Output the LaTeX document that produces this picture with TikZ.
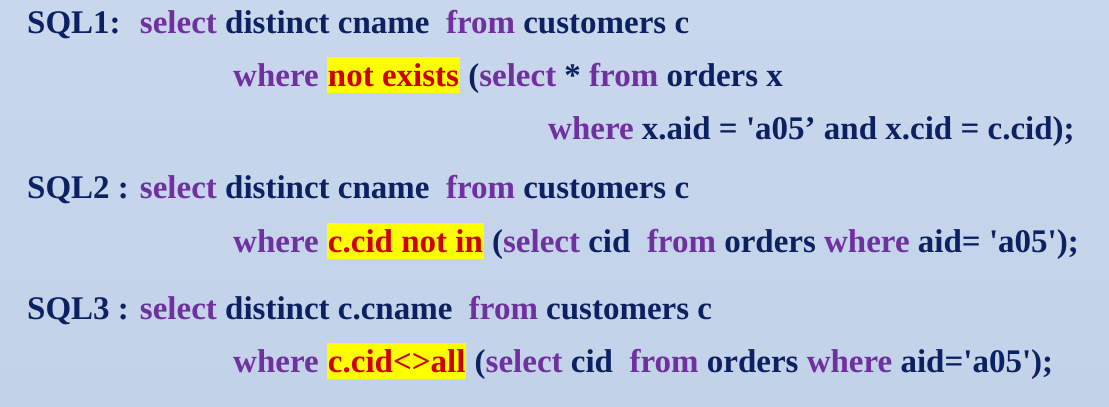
\documentclass[tikz,border=0pt]{standalone}
\usepackage{fontspec}
\setmainfont{Liberation Serif}[Ligatures=TeXOff]
\definecolor{nv}{HTML}{0B2161}
\definecolor{pp}{HTML}{7030A0}
\definecolor{rd}{HTML}{CC0000}
\definecolor{hly}{HTML}{FFFF00}
\definecolor{bgtop}{HTML}{C8D7EC}
\definecolor{bgmid}{HTML}{AFC3E0}
\definecolor{bgbot}{HTML}{C2D2E9}
\newcommand{\kw}[1]{\textcolor{pp}{#1}}
\newcommand{\hlt}[1]{{\setlength\fboxsep{0pt}\colorbox{hly}{\rule[-7pt]{0pt}{36pt}\kern1pt\textcolor{rd}{#1}\kern1pt}}}
\tikzset{sqlline/.style={anchor=base west, inner sep=0pt, font=\bfseries\fontsize{33}{38}\selectfont, text=nv}}
\begin{document}
\begin{tikzpicture}[x=1pt,y=-1pt]
\useasboundingbox (0,0) rectangle (1109,407);
\shade[top color=bgtop, middle color=bgmid, bottom color=bgbot] (0,0) rectangle (1109,407);
\node[sqlline] (l1) at (27,33) {SQL1:~ \kw{select} distinct cname~ \kw{from} customers c};
\node[sqlline] (l2) at (233,86) {\kw{where} \hlt{not exists} (\kw{select} * \kw{from} orders x};
\node[sqlline] (l3) at (548,139) {\kw{where} x.aid = 'a05’ and x.cid = c.cid);};
\node[sqlline] (l4) at (27,198) {SQL2 : \kw{select} distinct cname~ \kw{from} customers c};
\node[sqlline] (l5) at (233,252) {\kw{where} \hlt{c.cid not in} (\kw{select} cid~ \kw{from} orders \kw{where} aid= 'a05');};
\node[sqlline] (l6) at (27,319) {SQL3 : \kw{select} distinct c.cname~ \kw{from} customers c};
\node[sqlline] (l7) at (233,372) {\kw{where} \hlt{c.cid<>all} (\kw{select} cid~ \kw{from} orders \kw{where} aid='a05');};
\end{tikzpicture}
\end{document}
